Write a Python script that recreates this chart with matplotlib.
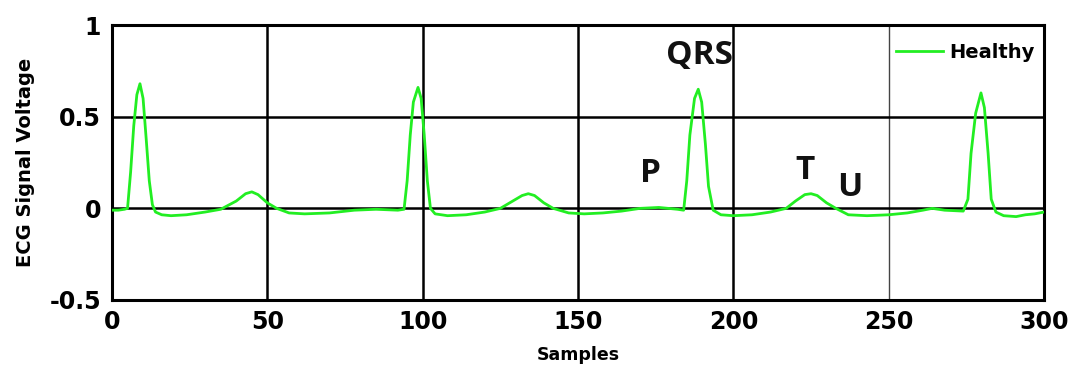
import numpy as np
import matplotlib.pyplot as plt

# ECG trace (sample index, voltage)
samples = [0, 2, 4, 5, 6, 7, 8, 9, 10, 11, 12, 13, 14, 16, 19, 24, 30, 35, 40, 43, 45, 47,
           50, 53, 57, 62, 70, 78, 85, 92, 94, 95, 96, 97, 98.5, 99.5, 100.5, 101.5, 102.5,
           104, 108, 114, 120, 125, 129, 132, 134, 136, 139, 142, 147, 152, 158, 164, 170,
           176, 182, 184, 185, 186, 187.5, 188.7, 189.8, 191, 192, 193.5, 196, 200, 206,
           212, 217, 220, 223, 225, 227, 230, 233, 237, 243, 250, 256, 261, 264, 268, 274,
           275.5, 276.5, 278, 279.7, 280.8, 282, 283, 284.5, 287, 291, 294, 297, 300]
voltage = [-0.01, -0.01, -0.005, 0.0, 0.2, 0.45, 0.62, 0.68, 0.6, 0.38, 0.15, 0.02, -0.02,
           -0.035, -0.04, -0.035, -0.02, -0.005, 0.04, 0.08, 0.09, 0.075, 0.03, 0.0, -0.025,
           -0.03, -0.025, -0.01, -0.005, -0.01, -0.005, 0.15, 0.4, 0.58, 0.66, 0.6, 0.4, 0.15,
           0.0, -0.03, -0.04, -0.035, -0.02, 0.0, 0.04, 0.07, 0.08, 0.07, 0.03, 0.0, -0.025,
           -0.03, -0.025, -0.015, 0.0, 0.005, -0.005, -0.01, 0.15, 0.4, 0.6, 0.65, 0.58, 0.35,
           0.12, -0.01, -0.035, -0.04, -0.035, -0.02, 0.0, 0.04, 0.075, 0.08, 0.07, 0.03, 0.0,
           -0.035, -0.04, -0.035, -0.025, -0.01, 0.0, -0.01, -0.015, 0.05, 0.3, 0.52, 0.63,
           0.55, 0.3, 0.05, -0.02, -0.04, -0.045, -0.035, -0.03, -0.02]

# wave annotations
wave_labels = ['QRS', 'P', 'T', 'U']
wave_x = [189.2, 173.2, 223, 237.5]
wave_y = [0.835, 0.188, 0.207, 0.112]

xticks = [0, 50, 100, 150, 200, 250, 300]
yticks = [-0.5, 0, 0.5, 1]

fig = plt.figure(figsize=(10.78, 3.69), dpi=100)
ax = fig.add_axes([0.1039, 0.187, 0.8646, 0.745])

for xv in xticks[1:-1]:
    if xv == 250:
        ax.axvline(xv, color='#444444', lw=1.0, zorder=1)
    else:
        ax.axvline(xv, color='black', lw=1.8, zorder=1)
for yv in yticks[1:-1]:
    ax.axhline(yv, color='black', lw=1.8, zorder=1)

ax.plot(samples, voltage, color='#22ee22', lw=2.0, label='Healthy', zorder=3)

for lab, xv, yv in zip(wave_labels, wave_x, wave_y):
    ax.text(xv, yv, lab, ha='center', va='center', fontsize=24, fontweight='bold',
            family='Open Sans', color='#111111')

ax.set_xlim(0, 300)
ax.set_ylim(-0.5, 1)
ax.set_xticks(xticks)
ax.set_yticks(yticks)
ax.set_xticklabels(['0', '50', '100', '150', '200', '250', '300'])
ax.set_yticklabels(['-0.5', '0', '0.5', '1'])
ax.tick_params(axis='x', length=0, labelsize=17, pad=7)
ax.tick_params(axis='y', length=0, labelsize=17, pad=8)
for lbl in ax.get_xticklabels() + ax.get_yticklabels():
    lbl.set_fontweight('bold')
    lbl.set_family('DejaVu Sans')

for sp in ax.spines.values():
    sp.set_linewidth(2.2)

ax.set_xlabel('Samples', fontsize=12.5, fontweight='bold', family='DejaVu Sans', labelpad=9)
ax.set_ylabel('ECG Signal Voltage', fontsize=14, fontweight='bold', family='DejaVu Sans', labelpad=10)

leg = ax.legend(loc='center right', bbox_to_anchor=(1.0, 0.9), frameon=True, fancybox=False,
                edgecolor='none', prop={'family': 'DejaVu Sans', 'weight': 'bold', 'size': 14},
                handlelength=2.4, handletextpad=0.3, borderaxespad=0.3, borderpad=0.2)
leg.get_frame().set_facecolor('white')
leg.get_frame().set_alpha(1)

fig.savefig('out.png', dpi=100)
